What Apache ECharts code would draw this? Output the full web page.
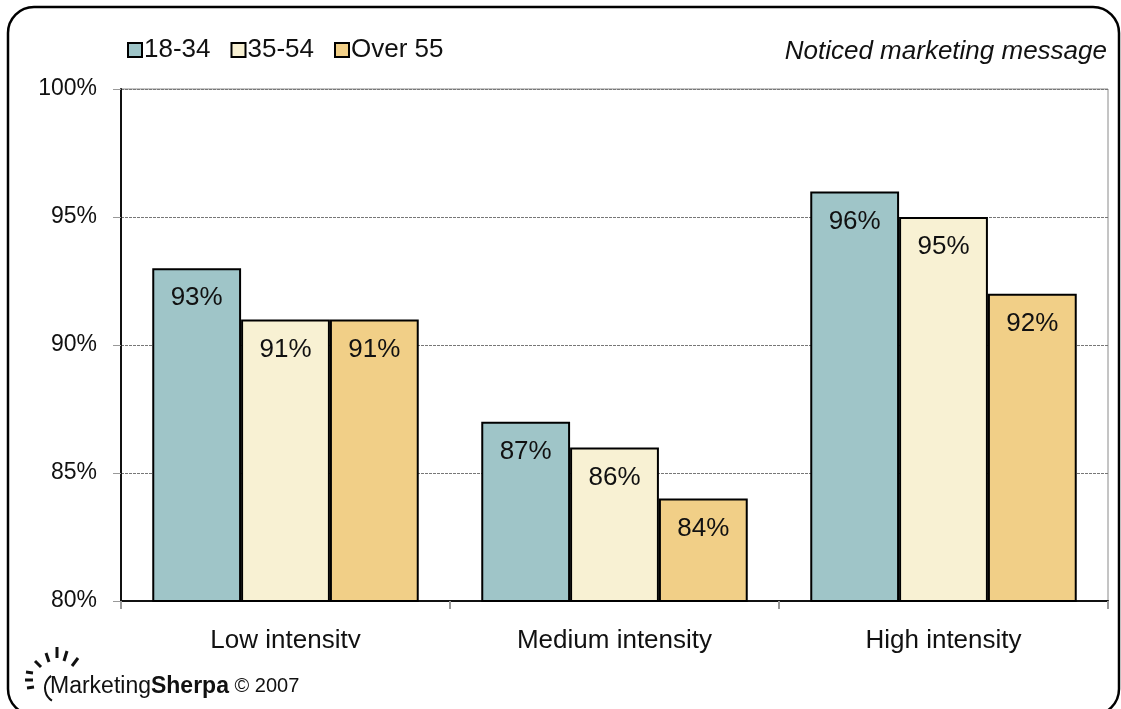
<!DOCTYPE html>
<html>
<head>
<meta charset="utf-8">
<script src="https://cdn.jsdelivr.net/npm/echarts@6/dist/echarts.min.js"></script>
<style>
  html, body { margin: 0; padding: 0; background: #fff; }
  #chart { width: 1121px; height: 709px; }
</style>
</head>
<body>
<div id="chart"></div>
<script>
// Share of respondents who noticed the marketing message, by age group
const categories = ['Low intensity', 'Medium intensity', 'High intensity'];
const seriesNames = ['18-34', '35-54', 'Over 55'];
const age18to34 = [93, 87, 96];
const age35to54 = [91, 86, 95];
const ageOver55 = [91, 84, 92];
const yTicks = [80, 85, 90, 95, 100];

const colors = ['#9fc5c8', '#f8f1d3', '#f1cf87'];
const font = '"Liberation Sans", Arial, Helvetica, sans-serif';

const chart = echarts.init(document.getElementById('chart'), null, { renderer: 'canvas' });

function barSeries(name, data, color) {
  return {
    name: name,
    type: 'bar',
    data: data,
    barGap: '0%',
    barCategoryGap: '19%',
    itemStyle: { color: color, borderColor: '#000', borderWidth: 2 },
    label: {
      show: true,
      position: 'insideTop',
      distance: 17,
      formatter: '{c}%',
      color: '#111',
      fontSize: 26,
      fontFamily: font
    }
  };
}

// Sunburst mark beside the footer logo: short rays plus an opening bracket
const rays = [
  [26, 672, 33, 673], [25, 680, 33, 680], [27, 688, 34, 687],
  [35, 661, 41, 667], [46, 653, 49, 662], [57, 647, 57, 658],
  [67, 651, 64, 661], [78, 658, 72, 666]
];

const logoParts = rays.map(r => ({
  type: 'line', silent: true, z: 101,
  shape: { x1: r[0], y1: r[1], x2: r[2], y2: r[3] },
  style: { stroke: '#111', lineWidth: 3, lineCap: 'butt' }
}));
logoParts.push({
  type: 'arc', silent: true, z: 101,
  shape: { cx: 60, cy: 688, r: 15, startAngle: Math.PI * 0.68, endAngle: Math.PI * 1.3 },
  style: { stroke: '#111', lineWidth: 2, fill: null }
});

chart.setOption({
  animation: false,
  textStyle: { fontFamily: font },
  grid: {
    left: 121, right: 13, top: 89, bottom: 108,
    show: true, borderColor: '#8a8a8a', borderWidth: 1, backgroundColor: '#fff'
  },
  legend: {
    data: seriesNames,
    left: 122, top: 32,
    itemWidth: 14, itemHeight: 14, itemGap: 20,
    icon: 'rect',
    itemStyle: { borderColor: '#000', borderWidth: 2 },
    textStyle: { fontSize: 26, color: '#111', fontFamily: font, padding: [0, 0, 0, -3] }
  },
  title: {
    text: 'Noticed marketing message',
    right: 9, top: 34,
    textStyle: { fontSize: 26, fontStyle: 'italic', fontWeight: 'normal', color: '#111', fontFamily: font }
  },
  xAxis: {
    type: 'category',
    data: categories,
    axisLine: { lineStyle: { color: '#111', width: 2 } },
    axisTick: { show: true, length: 8, lineStyle: { color: '#999', width: 2 } },
    axisLabel: { fontSize: 26, color: '#111', margin: 27, fontFamily: font }
  },
  yAxis: {
    type: 'value',
    min: yTicks[0], max: yTicks[yTicks.length - 1], interval: 5,
    axisLine: { show: true, lineStyle: { color: '#111', width: 2 } },
    axisTick: { show: true, length: 8, lineStyle: { color: '#999', width: 1 } },
    axisLabel: { fontSize: 23, color: '#111', margin: 24, formatter: '{value}%', fontFamily: font },
    splitLine: { show: true, lineStyle: { color: '#777', type: [3, 1], width: 1 } }
  },
  series: [
    barSeries(seriesNames[0], age18to34, colors[0]),
    barSeries(seriesNames[1], age35to54, colors[1]),
    barSeries(seriesNames[2], ageOver55, colors[2])
  ],
  graphic: [
    {
      type: 'rect', z: -10, silent: true,
      shape: { x: 8, y: 7, width: 1111, height: 708, r: 26 },
      style: { fill: 'none', stroke: '#000', lineWidth: 2.5 }
    },
    {
      type: 'rect', z: 100, silent: true,
      shape: { x: 14, y: 648, width: 360, height: 55 },
      style: { fill: '#fff' }
    }
  ].concat(logoParts, [
    {
      type: 'text', z: 101, left: 50, top: 675,
      style: {
        text: '{a|Marketing}{b|Sherpa}{c| © 2007}',
        rich: {
          a: { fontSize: 23, fontFamily: font, fill: '#111' },
          b: { fontSize: 23, fontFamily: font, fontWeight: 'bold', fill: '#111' },
          c: { fontSize: 20, fontFamily: font, fill: '#111' }
        }
      }
    }
  ])
});
</script>
</body>
</html>
